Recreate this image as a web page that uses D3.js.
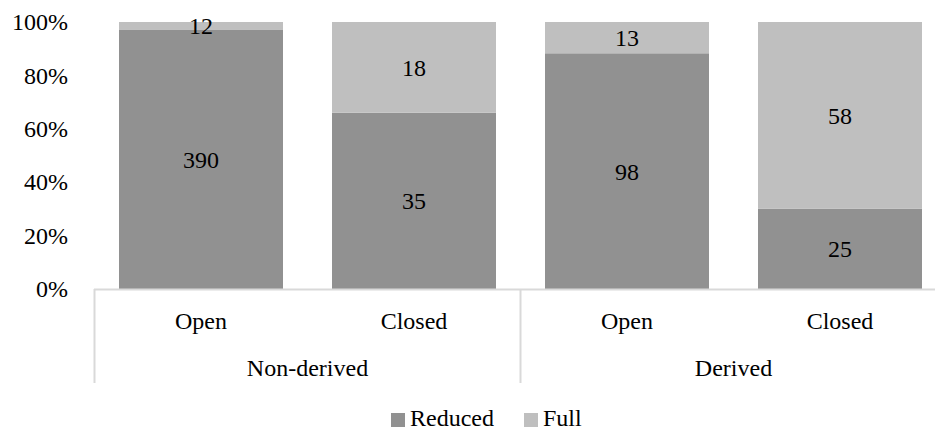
<!DOCTYPE html>
<html>
<head>
<meta charset="utf-8">
<script src="https://cdn.jsdelivr.net/npm/d3@7"></script>
<style>
  body { margin: 0; background: #fff; }
</style>
</head>
<body>
<div id="chart"></div>
<script>
// Chart data
const groups = ["Non-derived", "Derived"];
const categories = ["Open", "Closed", "Open", "Closed"];
const reduced = [390, 35, 98, 25];
const full = [12, 18, 13, 58];
const seriesNames = ["Reduced", "Full"];
const yTicks = [0, 0.2, 0.4, 0.6, 0.8, 1.0];

const width = 935;
const height = 430;
const colors = { Reduced: "#919191", Full: "#bfbfbf" };
const axisColor = "#d9d9d9";

const svg = d3.select("#chart").append("svg")
    .attr("width", width)
    .attr("height", height)
    .attr("font-family", "Liberation Serif")
    .attr("font-size", 24);

// Build rows for stacking (shares of 100%)
const rows = categories.map((c, i) => {
    const total = reduced[i] + full[i];
    return { idx: i, Reduced: reduced[i] / total, Full: full[i] / total, nReduced: reduced[i], nFull: full[i] };
});

const x = d3.scaleBand()
    .domain(d3.range(categories.length))
    .range([94.5, 946.5])
    .paddingInner(0.23)
    .paddingOuter(0.115);

const y = d3.scaleLinear()
    .domain([0, 1])
    .range([289, 22]);

const stack = d3.stack().keys(seriesNames);
const layers = stack(rows);

// Bars
svg.append("g").selectAll("g")
    .data(layers)
    .enter()
    .append("g")
    .attr("fill", d => colors[d.key])
    .selectAll("rect")
    .data(d => d)
    .enter()
    .append("rect")
    .attr("x", d => x(d.data.idx))
    .attr("width", x.bandwidth())
    .attr("y", d => y(d[1]))
    .attr("height", d => y(d[0]) - y(d[1]));

// Value labels centred in each segment
layers.forEach(layer => {
    svg.append("g").selectAll("text")
        .data(layer)
        .enter()
        .append("text")
        .attr("x", d => x(d.data.idx) + x.bandwidth() / 2)
        .attr("y", d => (y(d[0]) + y(d[1])) / 2)
        .attr("dy", "0.35em")
        .attr("text-anchor", "middle")
        .text(d => layer.key === "Reduced" ? d.data.nReduced : d.data.nFull);
});

// Y axis labels (no axis line or ticks visible)
const yAxis = svg.append("g")
    .attr("transform", "translate(94,0)")
    .call(d3.axisLeft(y).tickValues(yTicks).tickFormat(d3.format(".0%")).tickSize(0).tickPadding(26));
yAxis.select(".domain").remove();
yAxis.attr("font-family", "Liberation Serif").attr("font-size", 24);

// Category axis: baseline and group dividers
const x0 = x.range()[0];
svg.append("line")
    .attr("x1", x0 - 0.5).attr("x2", width)
    .attr("y1", 289.5).attr("y2", 289.5)
    .attr("stroke", axisColor).attr("stroke-width", 2);

const groupEdges = [x0, x0 + x.step() * 2];
svg.append("g").selectAll("line")
    .data(groupEdges)
    .enter()
    .append("line")
    .attr("x1", d => d).attr("x2", d => d)
    .attr("y1", 289).attr("y2", 383)
    .attr("stroke", axisColor).attr("stroke-width", 2);

// Category labels
svg.append("g").selectAll("text")
    .data(categories)
    .enter()
    .append("text")
    .attr("x", (d, i) => x(i) + x.bandwidth() / 2)
    .attr("y", 329)
    .attr("text-anchor", "middle")
    .text(d => d);

// Group labels
svg.append("g").selectAll("text")
    .data(groups)
    .enter()
    .append("text")
    .attr("x", (d, i) => x0 + x.step() * (2 * i + 1))
    .attr("y", 376)
    .attr("text-anchor", "middle")
    .text(d => d);

// Legend
const legendPos = [391, 524];
const legend = svg.append("g").selectAll("g")
    .data(seriesNames)
    .enter()
    .append("g")
    .attr("transform", (d, i) => `translate(${legendPos[i]},413)`);
legend.append("rect")
    .attr("width", 14).attr("height", 14)
    .attr("fill", d => colors[d]);
legend.append("text")
    .attr("x", 19)
    .attr("y", 13)
    .text(d => d);

svg.selectAll("text").attr("fill", "#000");
</script>
</body>
</html>
